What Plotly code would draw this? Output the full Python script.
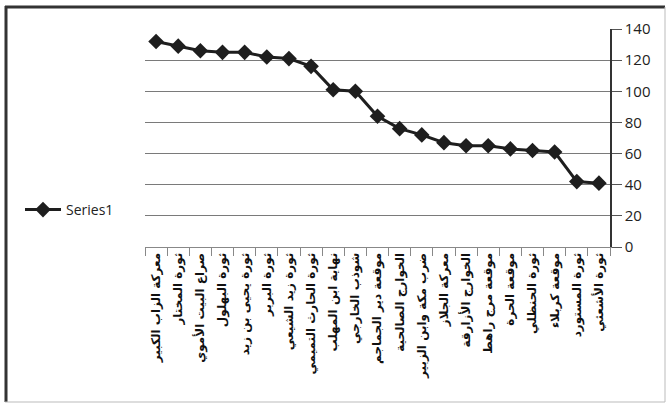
import plotly.graph_objects as go

# Battle / revolt names and their values
categories = [
    "معركة الزاب الكبير",
    "ثورة المختار",
    "صراع البيت الأموي",
    "ثورة البهلول",
    "ثورة يحيى بن زيد",
    "ثورة البربر",
    "ثورة زيد الشيعي",
    "ثورة الحارث التميمي",
    "نهاية ابن المهلب",
    "شوذب الخارجي",
    "موقعة دير الجماجم",
    "الخوارج الصالحية",
    "ضرب مكة وابن الزبير",
    "معركة الجلاز",
    "الخوارج الأزارقة",
    "موقعة مرج راهط",
    "موقعة الحرة",
    "ثورة الحنظلي",
    "موقعة كربلاء",
    "ثورة المستورد",
    "ثورة الأشعثي",
]
series1 = [132, 129, 126, 125, 125, 122, 121, 116, 101, 100, 84, 76, 72,
           67, 65, 65, 63, 62, 61, 42, 41]
y_ticks = [0, 20, 40, 60, 80, 100, 120, 140]

W, H = 670, 405
ML, MR, MT, MB = 145, 60, 29, 158
PW, PH = W - ML - MR, H - MT - MB


def px(x):
    return (x - ML) / PW


def py(y):
    return (H - MB - y) / PH


fig = go.Figure()
fig.add_trace(go.Scatter(
    x=categories, y=series1, name="Series1", mode="lines+markers",
    line=dict(color="#1e1e1e", width=3),
    marker=dict(symbol="diamond", size=12, color="#1e1e1e"),
))

# Chart frame
frame = [
    (px(5), py(7), px(665), py(7), "#333333", 3),
    (px(6), py(6), px(6), py(402), "#333333", 3),
    (px(665), py(7), px(665), py(402), "#bbbbbb", 1),
    (px(5), py(402), px(665), py(402), "#bbbbbb", 1),
]
shapes = [dict(type="line", xref="paper", yref="paper", x0=a, y0=b, x1=c, y1=d,
               line=dict(color=col, width=w)) for a, b, c, d, col, w in frame]

fig.update_layout(
    width=W, height=H,
    margin=dict(l=ML, r=MR, t=MT, b=MB),
    paper_bgcolor="white", plot_bgcolor="white",
    showlegend=True,
    legend=dict(x=px(20), y=py(210), xanchor="left", yanchor="middle",
                font=dict(family="Open Sans", size=14, color="#222"),
                bgcolor="rgba(0,0,0,0)", itemwidth=36),
    shapes=shapes,
    xaxis=dict(
        type="category", range=[-0.5, len(categories) - 0.5],
        tickangle=-90, tickson="boundaries", ticks="outside", ticklen=8,
        tickcolor="#888", showline=True, linecolor="#888", linewidth=1,
        showgrid=False,
        tickfont=dict(family="DejaVu Sans", size=12, color="#111", weight="bold"),
    ),
    yaxis=dict(
        side="right", range=[0, 140], tickvals=y_ticks,
        ticks="outside", ticklen=10, tickcolor="#555",
        showline=True, linecolor="#333", linewidth=1.5,
        showgrid=True, gridcolor="#7a7a7a", gridwidth=1.2,
        zeroline=False,
        tickfont=dict(family="Open Sans", size=15, color="#222"),
    ),
)

fig.write_html("out.html")
